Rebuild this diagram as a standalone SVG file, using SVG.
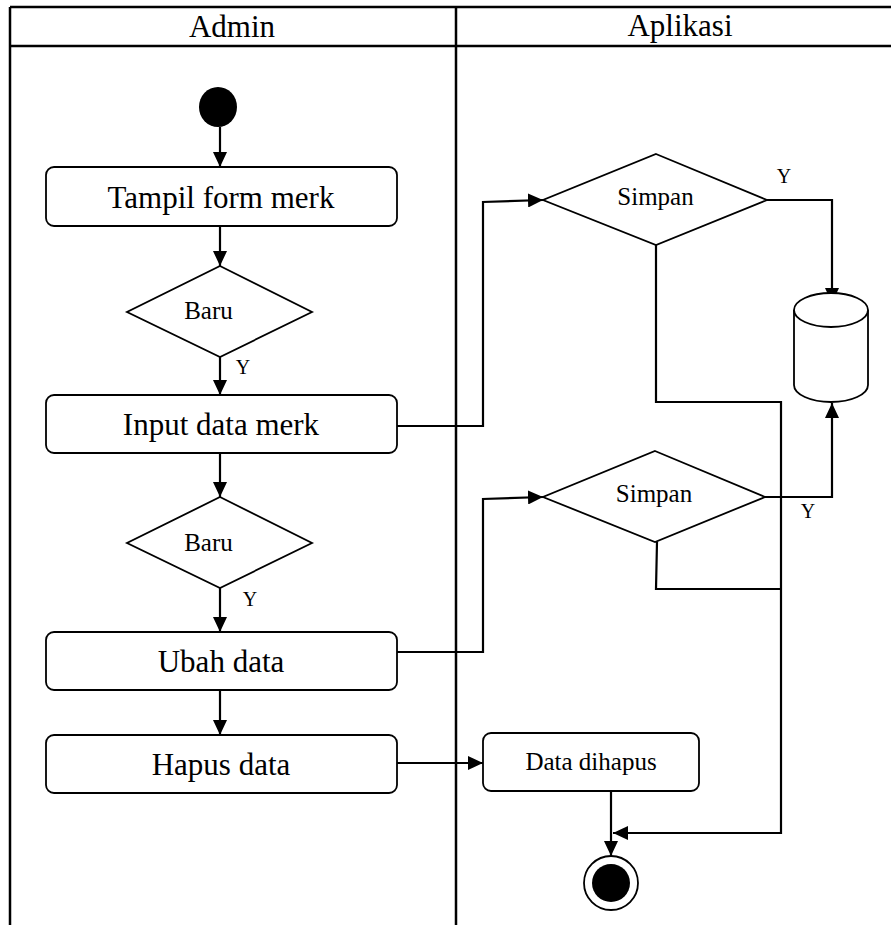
<svg xmlns="http://www.w3.org/2000/svg" width="891" height="925" viewBox="0 0 891 925">
<style>
.frame{stroke:#000;stroke-width:2.5;fill:none}
.box{fill:#fff;stroke:#000;stroke-width:1.8}
.dia{fill:#fff;stroke:#000;stroke-width:1.8}
.con{fill:none;stroke:#000;stroke-width:2.2}
.t{font-family:"Liberation Serif","Times New Roman",serif;fill:#000;text-anchor:middle}
.h{font-size:31px}
.b{font-size:31px}
.d{font-size:25px}
.y{font-size:20px}
</style>
<defs>
<marker id="arr" viewBox="0 0 15 14" refX="15" refY="7" markerWidth="15" markerHeight="14" markerUnits="userSpaceOnUse" orient="auto">
<path d="M0,0 L15,7 L0,14 z" fill="#000"/>
</marker>
</defs>
<rect width="891" height="925" fill="#fff"/>
<g id="swimlanes">
<line class="frame" x1="10" y1="7" x2="891" y2="7"/>
<line class="frame" x1="10" y1="46" x2="891" y2="46"/>
<line class="frame" x1="10" y1="7" x2="10" y2="925"/>
<line class="frame" x1="456" y1="7" x2="456" y2="925"/>
<text class="t h" x="232" y="37">Admin</text>
<text class="t h" x="680" y="36">Aplikasi</text>
</g>
<g id="connectors">
<path class="con" d="M220,127 L220,167" marker-end="url(#arr)"/>
<path class="con" d="M220,226 L220,266" marker-end="url(#arr)"/>
<path class="con" d="M220,357 L220,395" marker-end="url(#arr)"/>
<path class="con" d="M397,426 L483,426 L483,202 L543,200" marker-end="url(#arr)"/>
<path class="con" d="M220,453 L220,497" marker-end="url(#arr)"/>
<path class="con" d="M220,588 L220,632" marker-end="url(#arr)"/>
<path class="con" d="M397,652 L483,652 L483,499 L543,497" marker-end="url(#arr)"/>
<path class="con" d="M220,690 L220,735" marker-end="url(#arr)"/>
<path class="con" d="M397,763 L483,763" marker-end="url(#arr)"/>
<path class="con" d="M767,200 L832,200 L832,303" marker-end="url(#arr)"/>
<path class="con" d="M765,497 L832,497 L832,403" marker-end="url(#arr)"/>
<path class="con" d="M656,245 L656,402 L781,402 L781,833 L613,833" marker-end="url(#arr)"/>
<path class="con" d="M657,542 L656,589 L781,589"/>
<path class="con" d="M611,791 L611,856" marker-end="url(#arr)"/>
<text class="t y" x="243" y="374">Y</text>
<text class="t y" x="250" y="606">Y</text>
<text class="t y" x="784" y="183">Y</text>
<text class="t y" x="808" y="518">Y</text>
</g>
<g id="start"><ellipse cx="218" cy="107" rx="19" ry="20" fill="#000"/></g>
<g id="tampil"><rect class="box" x="46" y="167" width="351" height="59" rx="8"/><text class="t b" x="221" y="208">Tampil form merk</text></g>
<g id="baru1"><polygon class="dia" points="220,266 312,312 220,357 127,312"/><text class="t d" x="208.5" y="319">Baru</text></g>
<g id="input"><rect class="box" x="46" y="395" width="351" height="58" rx="8"/><text class="t b" x="221" y="435">Input data merk</text></g>
<g id="baru2"><polygon class="dia" points="220,497 312,543 220,588 127,543"/><text class="t d" x="208.5" y="551">Baru</text></g>
<g id="ubah"><rect class="box" x="46" y="632" width="351" height="58" rx="8"/><text class="t b" x="221" y="672">Ubah data</text></g>
<g id="hapus"><rect class="box" x="46" y="735" width="351" height="58" rx="8"/><text class="t b" x="221" y="775">Hapus data</text></g>
<g id="simpan1"><polygon class="dia" points="656,154 767,200 656,245 543,200"/><text class="t d" x="655.5" y="205">Simpan</text></g>
<g id="simpan2"><polygon class="dia" points="655,451 765,497 655,542 543,497"/><text class="t d" x="654" y="502">Simpan</text></g>
<g id="database">
<path class="box" d="M794,310 A37,17 0 0 1 868,310 L868,385 A37,17 0 0 1 794,385 Z"/>
<path class="box" fill="none" d="M794,310 A37,17 0 0 0 868,310"/>
</g>
<g id="dihapus"><rect class="box" x="483" y="733" width="216" height="58" rx="8"/><text class="t d" x="591" y="770">Data dihapus</text></g>
<g id="end"><circle cx="611" cy="883" r="27" fill="#fff" stroke="#000" stroke-width="1.8"/><circle cx="611" cy="883" r="19" fill="#000"/></g>
</svg>
